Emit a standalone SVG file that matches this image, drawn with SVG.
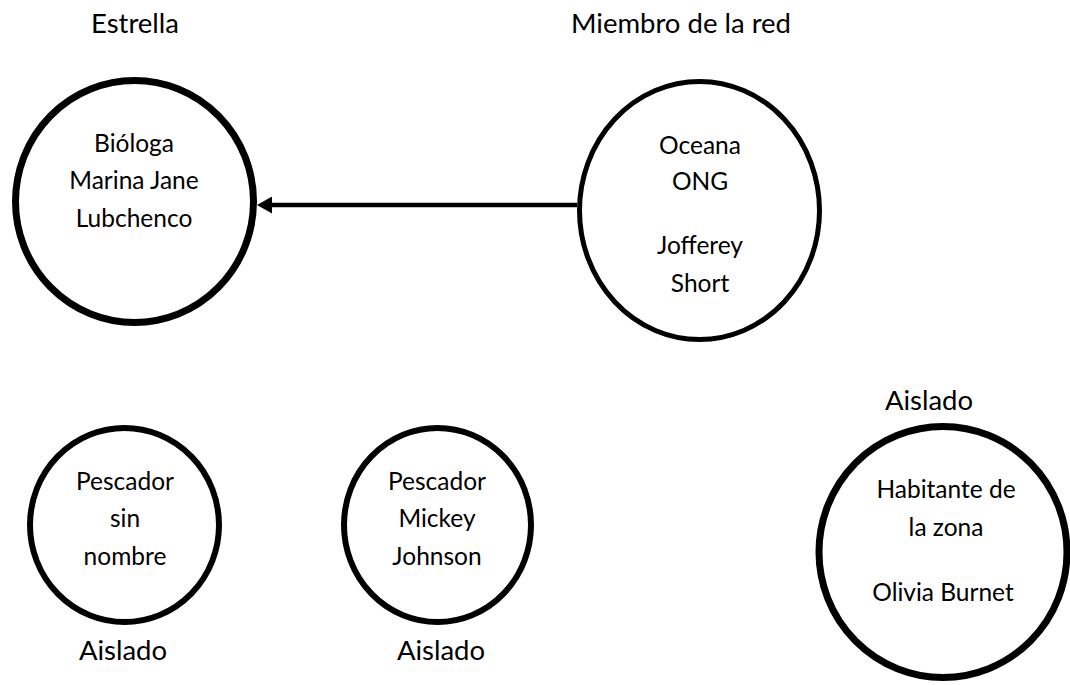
<svg xmlns="http://www.w3.org/2000/svg" width="1070" height="685" viewBox="0 0 1070 685">
<style>
text{font-family:Lato,"Liberation Sans",sans-serif;font-size:24.5px;fill:#000;text-anchor:middle}
#labels text{font-size:27.5px}
ellipse{fill:#fff;stroke:#000}
</style>
<defs>
<marker id="ah" markerWidth="15" markerHeight="17" refX="4" refY="8.5" orient="auto" markerUnits="userSpaceOnUse">
<path d="M0,0 L15,8.5 L0,17 Z" fill="#000"/>
</marker>
</defs>
<rect width="1070" height="685" fill="#fff"/>
<g id="labels">
<text x="135" y="33">Estrella</text>
<text x="681" y="33">Miembro de la red</text>
<text x="929" y="410">Aislado</text>
<text x="123" y="660">Aislado</text>
<text x="441" y="660">Aislado</text>
</g>
<g id="biologa">
<ellipse cx="134.5" cy="201.5" rx="119" ry="121" stroke-width="7"/>
<text x="134" y="152">Bióloga</text>
<text x="134" y="189">Marina Jane</text>
<text x="134" y="227">Lubchenco</text>
</g>
<g id="oceana">
<ellipse cx="699.5" cy="210.5" rx="120" ry="129" stroke-width="5"/>
<text x="700" y="154">Oceana</text>
<text x="700" y="190">ONG</text>
<text x="700" y="254">Jofferey</text>
<text x="700" y="292">Short</text>
</g>
<g id="pescador1">
<ellipse cx="124.5" cy="525" rx="94.5" ry="97" stroke-width="6"/>
<text x="125" y="490">Pescador</text>
<text x="125" y="527">sin</text>
<text x="125" y="565">nombre</text>
</g>
<g id="pescador2">
<ellipse cx="437.5" cy="525" rx="93.5" ry="97" stroke-width="6"/>
<text x="437" y="490">Pescador</text>
<text x="437" y="527">Mickey</text>
<text x="437" y="565">Johnson</text>
</g>
<g id="habitante">
<ellipse cx="943" cy="552" rx="124" ry="125.5" stroke-width="7"/>
<text x="946" y="498">Habitante de</text>
<text x="946" y="536">la zona</text>
<text x="943" y="601">Olivia Burnet</text>
</g>
<g id="connectors">
<line x1="577" y1="205" x2="268" y2="205" stroke="#000" stroke-width="4.5" marker-end="url(#ah)"/>
</g>
</svg>
